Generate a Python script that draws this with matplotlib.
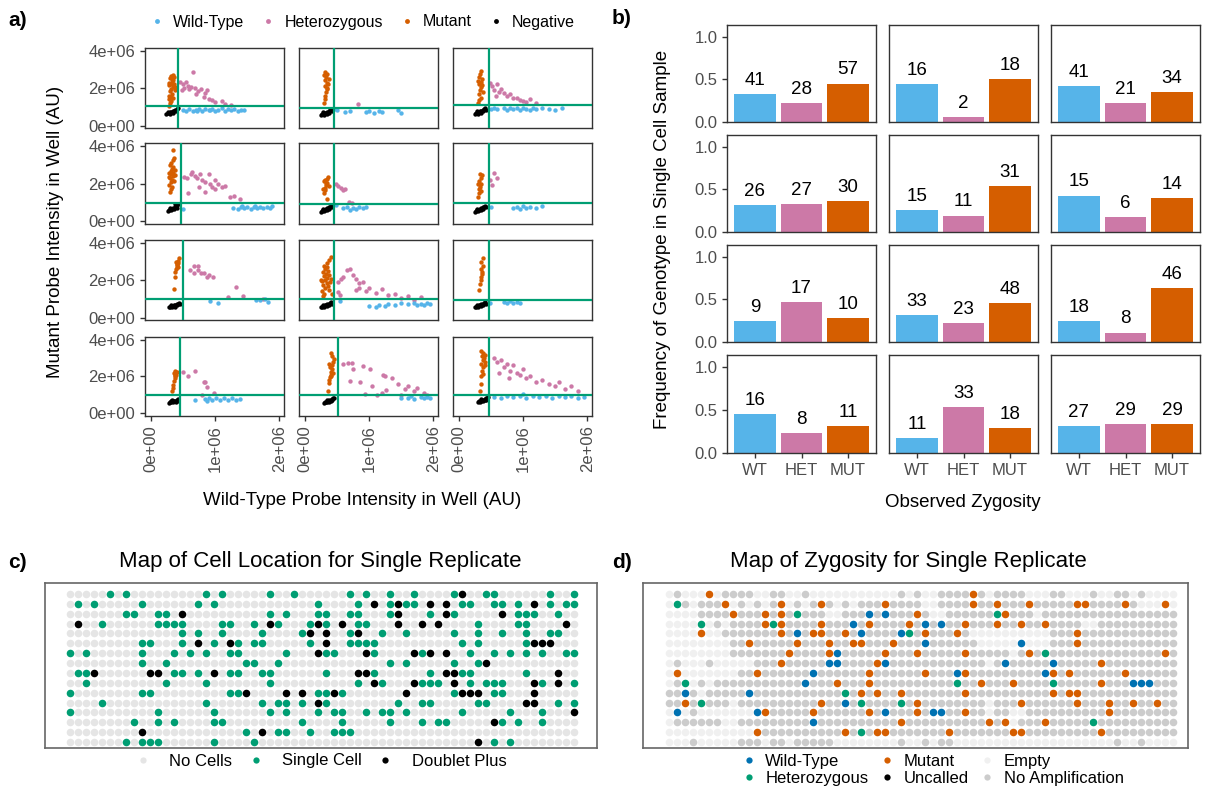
import numpy as np
import matplotlib.pyplot as plt
from matplotlib.lines import Line2D

plt.rcParams['font.family'] = ['Liberation Sans', 'DejaVu Sans']

# ---------------- data ----------------
# panel a: probe intensities (units of 1e6), one list per facet (row-major 4x3)
neg_pts = [
    [(0.24,0.62),(0.26,0.66),(0.28,0.68),(0.3,0.72),(0.32,0.74),(0.34,0.78),(0.36,0.8),(0.38,0.84),(0.4,0.88),(0.42,0.92),(0.3,0.64),(0.35,0.7),(0.39,0.76),(0.27,0.74)],
    [(0.25,0.56),(0.27,0.6),(0.29,0.64),(0.31,0.66),(0.33,0.7),(0.35,0.74),(0.37,0.78),(0.39,0.82),(0.41,0.86),(0.3,0.58),(0.34,0.62),(0.38,0.7),(0.28,0.72),(0.42,0.78)],
    [(0.25,0.62),(0.27,0.66),(0.29,0.7),(0.31,0.72),(0.33,0.76),(0.35,0.8),(0.37,0.84),(0.39,0.88),(0.41,0.92),(0.3,0.64),(0.34,0.68),(0.38,0.76),(0.28,0.78),(0.42,0.84)],
    [(0.27,0.56),(0.29,0.6),(0.31,0.64),(0.33,0.68),(0.35,0.72),(0.37,0.76),(0.39,0.82),(0.41,0.88),(0.42,0.94),(0.32,0.58),(0.36,0.64),(0.4,0.72),(0.3,0.7),(0.38,0.9)],
    [(0.25,0.52),(0.27,0.56),(0.29,0.6),(0.31,0.62),(0.33,0.66),(0.35,0.7),(0.37,0.74),(0.39,0.78),(0.41,0.84),(0.3,0.54),(0.34,0.58),(0.38,0.66),(0.28,0.68),(0.42,0.76)],
    [(0.25,0.52),(0.27,0.56),(0.29,0.6),(0.31,0.62),(0.33,0.66),(0.35,0.7),(0.37,0.74),(0.39,0.78),(0.41,0.84),(0.3,0.54),(0.34,0.58),(0.38,0.66),(0.28,0.68),(0.42,0.76)],
    [(0.28,0.56),(0.3,0.6),(0.32,0.62),(0.34,0.64),(0.36,0.66),(0.38,0.7),(0.4,0.72),(0.42,0.76),(0.44,0.8),(0.33,0.58),(0.37,0.6),(0.41,0.66),(0.31,0.68),(0.45,0.74)],
    [(0.25,0.56),(0.27,0.6),(0.29,0.62),(0.31,0.66),(0.33,0.7),(0.35,0.72),(0.37,0.76),(0.39,0.8),(0.41,0.84),(0.3,0.58),(0.34,0.62),(0.38,0.68),(0.28,0.7),(0.42,0.76)],
    [(0.25,0.56),(0.27,0.6),(0.29,0.62),(0.31,0.66),(0.33,0.7),(0.35,0.72),(0.37,0.76),(0.39,0.8),(0.41,0.84),(0.3,0.58),(0.34,0.62),(0.38,0.68),(0.28,0.7),(0.42,0.76)],
    [(0.28,0.56),(0.3,0.58),(0.32,0.6),(0.34,0.62),(0.36,0.64),(0.38,0.66),(0.4,0.7),(0.42,0.72),(0.43,0.76),(0.31,0.66),(0.35,0.68),(0.39,0.6),(0.33,0.72),(0.41,0.64)],
    [(0.3,0.56),(0.32,0.6),(0.34,0.62),(0.36,0.66),(0.38,0.7),(0.4,0.72),(0.42,0.76),(0.44,0.8),(0.45,0.84),(0.33,0.58),(0.37,0.62),(0.41,0.68),(0.35,0.72),(0.43,0.7)],
    [(0.3,0.6),(0.32,0.64),(0.34,0.66),(0.36,0.7),(0.38,0.74),(0.4,0.76),(0.42,0.8),(0.44,0.84),(0.45,0.88),(0.33,0.62),(0.37,0.66),(0.41,0.72),(0.35,0.76),(0.43,0.74)],
]
mut_pts = [
    [(0.28,1.05),(0.3,1.2),(0.29,1.4),(0.31,1.55),(0.33,1.7),(0.3,1.85),(0.32,1.95),(0.34,2.05),(0.29,2.15),(0.31,2.25),(0.33,2.35),(0.35,2.45),(0.3,2.55),(0.32,2.65),(0.34,2.72),(0.36,2.2),(0.37,1.9),(0.28,1.6),(0.35,1.5),(0.33,2.5),(0.36,2.6),(0.29,2.3),(0.38,2.05),(0.31,1.3)],
    [(0.3,1.2),(0.32,1.4),(0.31,1.6),(0.33,1.8),(0.35,2.0),(0.32,2.1),(0.34,2.3),(0.31,2.45),(0.33,2.6),(0.35,2.75),(0.32,2.85),(0.36,2.2),(0.34,1.95),(0.37,2.5),(0.3,2.7)],
    [(0.3,1.2),(0.32,1.35),(0.34,1.5),(0.31,1.7),(0.33,1.9),(0.35,2.05),(0.32,2.2),(0.34,2.35),(0.36,2.5),(0.31,2.6),(0.33,2.75),(0.35,2.9),(0.37,1.8),(0.36,2.15),(0.3,2.4)],
    [(0.3,1.55),(0.32,1.75),(0.29,1.95),(0.31,2.1),(0.33,2.2),(0.3,2.3),(0.34,2.4),(0.32,2.5),(0.29,2.6),(0.31,2.7),(0.33,2.8),(0.35,2.9),(0.3,3.0),(0.32,3.1),(0.34,3.25),(0.36,3.4),(0.35,3.8),(0.37,2.45),(0.36,2.15),(0.28,2.35),(0.33,1.85),(0.37,2.75),(0.35,2.6)],
    [(0.3,1.5),(0.32,1.65),(0.31,1.8),(0.33,1.95),(0.35,2.05),(0.3,2.15),(0.34,2.25),(0.36,2.35),(0.32,2.2),(0.37,1.9),(0.29,1.75),(0.35,1.2),(0.33,2.05)],
    [(0.3,1.3),(0.32,1.5),(0.31,1.7),(0.33,1.85),(0.35,2.0),(0.32,2.15),(0.34,2.3),(0.36,2.45),(0.3,2.0),(0.35,1.6),(0.33,2.55)],
    [(0.36,1.55),(0.37,2.2),(0.38,2.45),(0.39,2.6),(0.4,2.75),(0.41,2.85),(0.42,2.95),(0.43,3.05),(0.44,3.2),(0.4,2.9),(0.42,2.7),(0.39,3.0)],
    [(0.28,1.15),(0.3,1.3),(0.26,1.45),(0.32,1.6),(0.29,1.75),(0.34,1.85),(0.27,1.95),(0.31,2.05),(0.35,2.15),(0.3,2.25),(0.33,2.35),(0.28,2.45),(0.36,2.5),(0.32,2.6),(0.35,2.7),(0.3,2.8),(0.34,2.95),(0.38,3.1),(0.4,3.25),(0.37,2.3),(0.39,1.9),(0.41,2.1),(0.25,2.0),(0.38,1.5),(0.42,1.3),(0.36,1.7)],
    [(0.32,1.5),(0.33,1.8),(0.34,2.0),(0.35,2.2),(0.36,2.45),(0.34,2.6),(0.37,2.8),(0.35,3.0),(0.38,3.2),(0.36,2.35)],
    [(0.33,1.2),(0.34,1.35),(0.35,1.55),(0.36,1.75),(0.37,1.9),(0.38,2.0),(0.39,2.1),(0.36,2.2),(0.38,2.3),(0.4,2.25),(0.37,2.05)],
    [(0.36,1.2),(0.37,1.62),(0.38,1.8),(0.39,1.95),(0.4,2.1),(0.41,2.25),(0.42,2.4),(0.43,2.6),(0.44,2.8),(0.45,2.95),(0.42,3.1),(0.4,3.3),(0.39,2.5),(0.44,2.2),(0.41,2.0),(0.37,2.7)],
    [(0.33,1.2),(0.35,1.6),(0.34,2.0),(0.36,2.3),(0.38,2.5),(0.35,2.7),(0.37,2.9),(0.39,3.0),(0.36,3.1),(0.38,3.3),(0.34,3.4),(0.4,2.8),(0.41,2.6),(0.37,2.15),(0.4,3.15)],
]
het_pts = [
    [(0.46,2.35),(0.5,2.2),(0.55,2.35),(0.58,2.1),(0.62,2.05),(0.65,2.85),(0.68,2.0),(0.7,1.7),(0.74,1.85),(0.78,1.95),(0.82,1.55),(0.85,1.75),(0.9,1.4),(0.95,1.35),(1.0,1.25),(1.1,1.3),(1.15,1.15),(1.25,1.1),(0.6,1.95),(0.88,1.9),(0.52,2.0),(0.48,1.9)],
    [(0.82,1.15)],
    [(0.48,2.3),(0.52,2.1),(0.55,1.9),(0.6,2.2),(0.62,1.8),(0.66,1.95),(0.7,1.75),(0.75,1.6),(0.8,1.7),(0.85,1.5),(0.9,1.45),(0.95,1.35),(1.0,1.3),(1.05,1.25),(1.1,1.4),(1.2,1.2),(0.58,1.6)],
    [(0.52,2.35),(0.56,2.3),(0.58,1.5),(0.62,2.5),(0.64,2.63),(0.68,2.4),(0.72,2.3),(0.77,2.55),(0.8,2.2),(0.85,2.1),(0.9,2.5),(0.92,2.0),(0.95,1.85),(1.0,2.2),(1.05,2.0),(1.1,1.85),(1.15,1.9),(1.0,1.7),(0.85,1.55),(1.23,1.3),(1.3,1.35),(1.38,1.2),(0.75,1.85)],
    [(0.48,2.0),(0.52,1.9),(0.56,1.8),(0.6,1.65),(0.62,1.7),(0.68,1.02),(0.73,1.0)],
    [(0.48,2.2),(0.52,1.95),(0.55,2.6),(0.6,2.3)],
    [(0.61,2.58),(0.67,2.76),(0.73,2.8),(0.67,2.38),(0.74,2.54),(0.78,2.38),(0.82,2.38),(0.87,2.2),(0.9,2.3),(0.97,2.2),(1.2,1.13),(1.33,1.65),(1.43,1.15),(1.74,1.03)],
    [(0.52,1.92),(0.56,2.1),(0.66,2.55),(0.71,2.6),(0.75,2.3),(0.8,2.1),(0.85,1.85),(0.9,1.9),(0.8,1.5),(0.85,1.6),(0.52,1.4),(0.54,1.2),(1.0,1.6),(1.1,1.35),(1.2,1.55),(1.3,1.2),(1.4,1.3),(1.5,1.05),(1.6,1.15),(1.7,0.95),(1.8,1.1),(0.95,1.45),(0.6,2.2)],
    [],
    [(0.5,2.25),(0.58,2.0),(0.68,2.3),(0.83,1.7),(0.85,1.7),(0.88,1.4),(0.8,1.0),(0.98,1.1)],
    [(0.6,2.7),(0.67,2.72),(0.73,2.73),(0.75,2.4),(0.9,2.55),(1.02,2.4),(0.7,1.73),(0.86,1.68),(0.94,1.05),(1.04,1.45),(1.22,2.05),(1.25,2.0),(1.12,0.98),(1.2,1.1),(1.26,1.25),(1.35,1.9),(1.45,1.6),(1.55,1.3),(1.6,1.5),(1.7,1.2),(1.75,1.35),(1.85,1.1),(1.5,1.0),(1.9,1.0)],
    [(0.55,3.0),(0.6,2.8),(0.65,2.9),(0.7,2.5),(0.75,2.7),(0.8,2.3),(0.85,2.6),(0.9,2.2),(0.95,2.1),(1.0,2.4),(1.05,1.9),(1.1,2.0),(1.2,1.7),(1.3,1.8),(1.4,1.6),(1.5,1.5),(1.55,1.7),(1.65,1.3),(1.75,1.45),(1.85,1.2),(0.62,2.2),(0.78,1.9)],
]
wt_pts = [
    [(0.5,0.85),(0.55,0.8),(0.6,0.88),(0.65,0.78),(0.7,0.85),(0.75,0.9),(0.8,0.8),(0.85,0.88),(0.9,0.82),(0.95,0.9),(1.0,0.78),(1.05,0.86),(1.1,0.92),(1.15,0.8),(1.2,0.88),(1.25,0.84),(1.3,0.9),(1.35,0.8),(1.4,0.86),(1.45,0.82),(0.72,0.8),(0.92,0.86)],
    [(0.48,0.9),(0.62,0.72),(0.7,0.8),(0.95,0.72),(1.0,0.78),(1.08,0.7),(1.15,0.8),(1.2,0.72),(1.45,0.85),(1.5,0.7),(0.5,0.82)],
    [(0.5,0.9),(0.55,0.95),(0.6,0.88),(0.7,0.92),(0.75,0.85),(0.8,0.95),(0.85,0.88),(0.9,0.92),(0.95,0.86),(1.0,0.95),(1.05,0.9),(1.1,0.85),(1.15,0.93),(1.2,0.88),(1.3,0.95),(1.4,0.9),(1.5,0.86),(1.6,0.92)],
    [(0.5,0.65),(1.28,0.72),(1.35,0.68),(1.4,0.75),(1.45,0.7),(1.5,0.76),(1.55,0.68),(1.6,0.74),(1.65,0.7),(1.7,0.78),(1.75,0.72),(1.8,0.76),(1.85,0.7),(1.88,0.8),(1.42,0.8),(1.62,0.82)],
    [(0.48,0.85),(0.6,0.7),(0.65,0.75),(0.7,0.62),(0.75,0.72),(0.8,0.68),(0.85,0.78),(0.9,0.7),(0.95,0.75)],
    [(0.5,0.75),(0.85,0.7),(0.9,0.78),(0.95,0.68),(1.0,0.8),(1.05,0.72),(1.1,0.75),(1.2,0.7),(1.3,0.82)],
    [(0.92,0.9),(1.05,0.78),(1.64,0.93),(1.69,0.95),(1.82,0.87),(1.77,0.99)],
    [(0.55,0.9),(1.0,0.65),(1.1,0.6),(1.15,0.68),(1.25,0.62),(1.3,0.75),(1.4,0.7),(1.5,0.78),(1.6,0.72),(1.7,0.8),(1.75,0.7),(1.8,0.76),(1.85,0.68),(1.9,0.78),(1.95,0.72)],
    [(0.48,0.8),(0.7,0.85),(0.75,0.8),(0.8,0.9),(0.85,0.78),(0.9,0.85),(0.95,0.8)],
    [(0.68,0.72),(0.85,0.75),(0.9,0.8),(0.95,0.72),(1.02,0.8),(1.08,0.72),(1.14,0.8),(1.2,0.72),(1.26,0.8),(1.32,0.72),(1.38,0.78),(0.88,0.68)],
    [(1.5,0.8),(1.6,0.85),(1.7,0.78),(1.8,0.88),(1.85,0.8),(1.9,0.9),(1.95,0.82),(1.65,0.92)],
    [(0.55,0.9),(0.65,0.85),(0.75,0.95),(0.85,0.88),(0.95,0.92),(1.05,0.85),(1.15,0.95),(1.25,0.88),(1.35,0.92),(1.45,0.85),(1.55,0.95),(1.65,0.88),(1.75,0.92),(1.85,0.85),(1.95,0.9),(1.0,1.05)],
]
wt_cut = [0.42, 0.45, 0.47, 0.47, 0.45, 0.47, 0.50, 0.46, 0.47, 0.46, 0.51, 0.47]
mut_cut = [1.05, 0.96, 1.10, 0.96, 0.91, 0.96, 0.98, 0.98, 0.95, 0.98, 0.98, 1.00]

# panel b: genotype counts per sample (WT, HET, MUT)
zyg = ['WT', 'HET', 'MUT']
counts = [
    [41, 28, 57], [16, 2, 18], [41, 21, 34],
    [26, 27, 30], [15, 11, 31], [15, 6, 14],
    [9, 17, 10], [33, 23, 48], [18, 8, 46],
    [16, 8, 11], [11, 33, 18], [27, 29, 29],
]

# panel c: column index of single cells / doublets in each of 16 rows (64 wells per row)
c_single = [
    [5,7,17,19,25,28,35,37,40,43,48,52,53,60,63],
    [1,3,9,16,18,31,36,40,42,43,49,50,53,54,56,60,62,63],
    [7,8,11,12,25,27,31,32,35,36,40,45,48,56,57,58,61],
    [4,11,12,13,14,19,20,23,26,30,32,36,37,51,56,57],
    [14,16,19,24,29,35,39,42,48,51,54,57,60,61],
    [9,10,14,18,21,23,24,30,35,36,37,38,49,51,57],
    [0,2,9,13,15,17,20,21,27,32,33,38,44,50,53,55,57,59,62,63],
    [9,12,22,23,26,40,42,48,51],
    [1,2,13,14,16,20,21,24,25,32,38,45,49,50,57],
    [2,12,17,25,36,39,44,45,46,50,52,53,54,59,63],
    [0,9,10,20,21,31,32,34,48,53,54],
    [4,17,24,26,27,29,32,41,44,45,51,52,61,63],
    [0,11,18,25,27,31,33,34,37,39,40,42,49,55,59],
    [8,11,13,18,19,29,34,40,44,46,47,54,56,59],
    [22,26,27,30,33,34,35],
    [7,9,10,11,18,23,53,55],
]
c_doublet = [
    [49], [38,41,45,47,58], [14,41,47,54], [1,25,31,34,41,44,46,62],
    [30,32,36], [16,20,32,58,59,60], [31,37,43,45,47], [52],
    [3,10,11,18,36,37,47,48,61], [38,43,48,58,61], [22,27,29,33,42,49,50,51,58], [31,57,58],
    [63], [53], [9,24], [51],
]

# panel d: w=wild-type h=heterozygous m=mutant u=uncalled e=empty n=no amplification
d_rows = [
    "eneeemennnneenneenee" "eeeeeeeeenenee" "nnnnmn" "ennnneeenneeeneenneneeee",
    "ehnennnmenenenmenenm" "nenennnmnnnneennnnmn" "nmnnnmnnnnnmmnnnnmneeeme",
    "eeeennnnmnnnmnmnhnnn" "eennnwnwnnnmneennnnn" "nhmnnne" "nnnnnnnnnnnnnnnnn",
    "eeeehenennnnmhmnnnnm" "nnnwnmnnnnmnwnwnnmnn" "nmnnmnnmnnnnee" "nnnnnnnnnn",
    "eeeemeennnnnnnmnwnmm" "nnmnwnnnnwhnmnnnmnee" "eeeeeeeennnm" "nnnnnnnnnnnn",
    "eeeeeeeennmnnnnnmnnn" "mnnmmnnnmnnnwnnnnnne" "eeeeweeennnm" "nnnnnnnnnnnn",
    "eeeeeeeennnnnnnmnnnn" "mwnnnnnmnnnmnnnnnmnn" "nnnenmnh" "nnnnnnnnnnnnnn" "mn",
    "eneeeneeeeennnmnnnnn" "wwnnnnmwnnnnnnnnnnnn" "enwnnnnnwnnnnnmnnnnnnnnn",
    "emeeeeeeennmnnnnnnwn" "nnnnnmnnnnnnmnnnwmnn" "nnnnnnnwmnmnnnnnnmnnnnnn",
    "enhenennnnnnnnnnnwnn" "nmnnnmnnnnnnnnnnhnnm" "nnnmnnnnhnnnnnmnnnwwwnnn",
    "nnwnennnnnwnnnnnnnnn" "nnhnmnmnnmnnnnnnnmnn" "nnnnnnnnmnmmnnnnnnnnnnnn",
    "nnmnhnnnennnnnnnnnnm" "nnwnhnnnnhnmnnnnnnnn" "ennnmnnnnnnmnnnmnnmnnmnn",
    "eweneeeeeeewmnnnnnmn" "nnnnnmnwnnnmnwwnnmnn" "enneennnnnnnnnnmnnnnnnnn",
    "ennnnnneennnnnnnnnwn" "nnnnnnnnnmnnnnnnnnnn" "mnmennnmnnnnnhnnnnnnnnnn",
    "eeeeeeeeeeemnnnnnnnn" "nnmnhnmmnnnnnnnmnnnn" "nnnmmnnnnnnnnnmnnnnnnnnn",
    "eeeneeeeennnennennnn" "neeeeeeeeneenenneeee" "eeeeeeeeeeeeeeeeneeneeee",
]

# ---------------- style ----------------
WT, HET, MUT = '#56B4E9', '#CC79A7', '#D55E00'
LINE = '#009E73'
TICK = '#4D4D4D'
FRAME = '#333333'

W, H = 1207, 790
fig = plt.figure(figsize=(W / 100, H / 100), dpi=100)


def box(x0, y0, x1, y1):
    return fig.add_axes([x0 / W, 1 - y1 / H, (x1 - x0) / W, (y1 - y0) / H])


def frame(ax, color=FRAME, lw=1.0):
    for s in ax.spines.values():
        s.set_color(color)
        s.set_linewidth(lw)
    ax.tick_params(colors=FRAME, labelcolor=TICK, labelsize=12, length=3.5, width=1)


# ---------------- panel a ----------------
a_cols = [(145, 284), (299, 438), (453, 592)]
a_rows = [(47.7, 128.3), (143.3, 224), (240.3, 320.3), (336.7, 415.7)]
for i in range(12):
    r, c = divmod(i, 3)
    ax = box(a_cols[c][0], a_rows[r][0], a_cols[c][1], a_rows[r][1])
    for pts, col in ((neg_pts[i], 'black'), (mut_pts[i], MUT), (het_pts[i], HET), (wt_pts[i], WT)):
        if pts:
            x, y = np.array(pts).T * 1e6
            ax.scatter(x, y, s=10, color=col, lw=0, zorder=2)
    ax.axvline(wt_cut[i] * 1e6, color=LINE, lw=1.6, zorder=3)
    ax.axhline(mut_cut[i] * 1e6, color=LINE, lw=1.6, zorder=3)
    ax.set_xlim(-0.09e6, 2.07e6)
    ax.set_ylim(-0.14e6, 4.16e6)
    frame(ax)
    if c == 0:
        ax.set_yticks([0, 2e6, 4e6], ['0e+00', '2e+06', '4e+06'])
    else:
        ax.set_yticks([])
    if r == 3:
        ax.set_xticks([0, 1e6, 2e6], ['0e+00', '1e+06', '2e+06'], rotation=90)
    else:
        ax.set_xticks([])

fig.text(55 / W, 1 - 232 / H, 'Mutant Probe Intensity in Well (AU)', rotation=90,
         ha='center', va='center', fontsize=13.5)
fig.text(362 / W, 1 - 500 / H, 'Wild-Type Probe Intensity in Well (AU)',
         ha='center', va='center', fontsize=13.5)
a_handles = [Line2D([], [], ls='', marker='o', ms=3.5, mew=0, color=col)
             for col in (WT, HET, MUT, 'black')]
fig.legend(a_handles, ['Wild-Type', 'Heterozygous', 'Mutant', 'Negative'],
           loc='center', bbox_to_anchor=(362 / W, 1 - 22 / H), ncol=4, frameon=False,
           fontsize=11.5, handlelength=1.0, handletextpad=0.5, columnspacing=1.0)

# ---------------- panel b ----------------
b_cols = [(727, 876), (889, 1038), (1051, 1200)]
b_rows = [(25, 122), (135, 232), (245, 342), (355, 453)]
for i in range(12):
    r, c = divmod(i, 3)
    ax = box(b_cols[c][0], b_rows[r][0], b_cols[c][1], b_rows[r][1])
    n = np.array(counts[i])
    f = n / n.sum()
    pos = np.arange(len(zyg))
    ax.bar(pos, f, width=0.9, color=[WT, HET, MUT])
    for k in pos:
        ax.text(k, f[k] + 0.06, str(n[k]), ha='center', va='bottom', fontsize=13.5)
    ax.set_xlim(-0.6, 2.6)
    ax.set_ylim(0, 1.14)
    frame(ax)
    if c == 0:
        ax.set_yticks([0, 0.5, 1.0], ['0.0', '0.5', '1.0'])
    else:
        ax.set_yticks([])
    if r == 3:
        ax.set_xticks(pos, zyg)
    else:
        ax.set_xticks([])

fig.text(662 / W, 1 - 239 / H, 'Frequency of Genotype in Single Cell Sample', rotation=90,
         ha='center', va='center', fontsize=13.5)
fig.text(963 / W, 1 - 503 / H, 'Observed Zygosity', ha='center', va='center', fontsize=13.5)

# ---------------- panel c ----------------
ax = box(45, 583, 597, 748)
grid_c = np.full((16, 64), 'o')
for r in range(16):
    grid_c[r, c_single[r]] = 's'
    grid_c[r, c_doublet[r]] = 'd'
c_style = [('o', '#E5E5E5', 'No Cells'), ('s', '#009E73', 'Single Cell'), ('d', 'black', 'Doublet Plus')]
for code, col, lab in c_style:
    rr, cc = np.nonzero(grid_c == code)
    ax.scatter(cc, rr, s=30, color=col, lw=0)
ax.set_xlim(-3.1, 65.9)
ax.set_ylim(15.6, -1.1)
ax.set_xticks([])
ax.set_yticks([])
frame(ax, '#666666', 1.2)
fig.text(320 / W, 1 - 562 / H, 'Map of Cell Location for Single Replicate', ha='center', va='center', fontsize=16)
c_handles = [Line2D([], [], ls='', marker='o', ms=4.5, mew=0, color=col) for _, col, _ in c_style]
fig.legend(c_handles, [lab for _, _, lab in c_style], loc='center', bbox_to_anchor=(318 / W, 1 - 761 / H),
           ncol=3, frameon=False, fontsize=12, handlelength=1.6, handletextpad=0.8, columnspacing=0.6)

# ---------------- panel d ----------------
for row in d_rows:
    assert len(row) == 64, (len(row), row)
ax = box(643, 583, 1188, 748)
grid_d = np.array([list(row) for row in d_rows])
d_style = [('w', '#0072B2', 'Wild-Type'), ('h', '#009E73', 'Heterozygous'), ('m', '#D55E00', 'Mutant'),
           ('u', 'black', 'Uncalled'), ('e', '#F0F0F0', 'Empty'), ('n', '#CCCCCC', 'No Amplification')]
for code, col, lab in d_style:
    rr, cc = np.nonzero(grid_d == code)
    if len(rr):
        ax.scatter(cc, rr, s=30, color=col, lw=0)
ax.set_xlim(-3.25, 64.9)
ax.set_ylim(15.6, -1.1)
ax.set_xticks([])
ax.set_yticks([])
frame(ax, '#666666', 1.2)
fig.text(908 / W, 1 - 562 / H, 'Map of Zygosity for Single Replicate', ha='center', va='center', fontsize=16)
d_handles = [Line2D([], [], ls='', marker='o', ms=4.5, mew=0, color=col) for _, col, _ in d_style]
fig.legend(d_handles, [lab for _, _, lab in d_style], loc='center', bbox_to_anchor=(932 / W, 1 - 770 / H),
           ncol=3, frameon=False, fontsize=12, handlelength=1.0, handletextpad=0.5, columnspacing=0.6,
           labelspacing=0.1)

# ---------------- panel letters ----------------
for lab, x, y in (('a)', 8, 21), ('b)', 612, 18), ('c)', 8, 563), ('d)', 612, 563)):
    fig.text(x / W, 1 - y / H, lab, ha='left', va='center', fontsize=15, fontweight='bold')

fig.savefig('out.png', dpi=100)
